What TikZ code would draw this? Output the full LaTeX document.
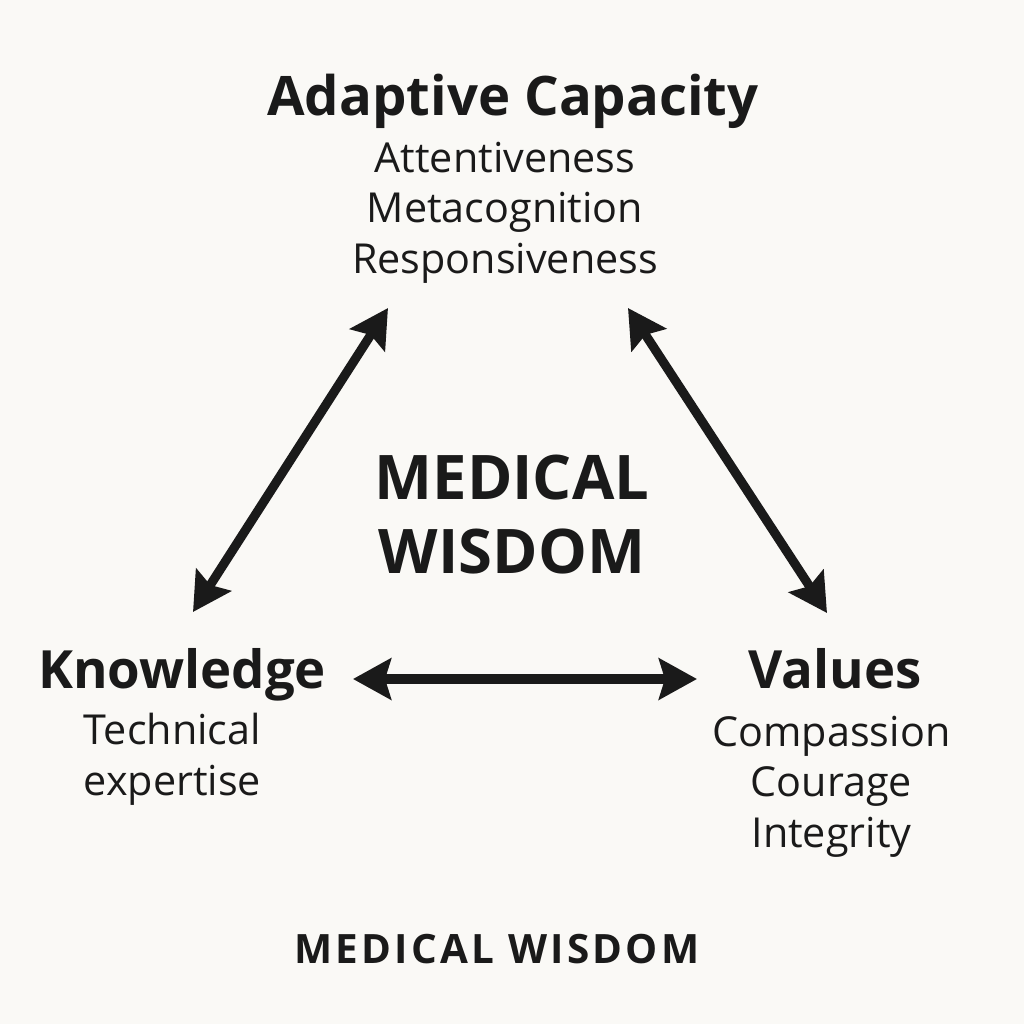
\documentclass[tikz,border=0pt]{standalone}
\usepackage{fontspec}
\setmainfont{Open Sans}
\usetikzlibrary{arrows.meta,positioning,calc}
\definecolor{ink}{RGB}{26,26,26}
\definecolor{paper}{RGB}{250,249,246}

\begin{document}
\begin{tikzpicture}[
  every node/.style={text=ink, inner sep=0pt},
  head/.style={anchor=base, font=\fontsize{30}{36}\bfseries\selectfont},
  items/.style={anchor=base, align=center, font=\fontsize{23.5}{28.6}\selectfont},
  core/.style={anchor=base, align=center, font=\fontsize{35}{42.1}\bfseries\selectfont},
  foot/.style={anchor=base, font=\fontsize{23}{30}\bfseries\addfontfeature{LetterSpace=8}\selectfont},
  dbl/.style={{Stealth[length=0.76cm,width=0.82cm,inset=0.12cm]}-{Stealth[length=0.76cm,width=0.82cm,inset=0.12cm]},
              draw=ink, line width=5.2pt},
]

% page
\fill[paper] (-10.24,-10.24) rectangle (10.24,10.24);

% corners of the triangle
\node[head, font=\fontsize{31}{36}\bfseries\selectfont] (adapt) at (0.02,7.94) {Adaptive Capacity};
\node[items] (adaptlist) at (-0.14,4.78) {Attentiveness\\Metacognition\\Responsiveness};

\node[head] (know) at (-6.6,-3.52) {Knowledge};
\node[items] (knowlist) at (-6.79,-5.66) {Technical\\expertise};

\node[head] (values) at (6.46,-3.52) {Values};
\node[items] (valueslist) at (6.39,-6.70) {Compassion\\Courage\\Integrity};

% middle and title
\node[core] (core) at (0,-1.22) {MEDICAL\\WISDOM};
\node[foot] (foot) at (-0.3,-9.02) {MEDICAL WISDOM};

% links
\draw[dbl] ([shift={(0.22,1.52)}]know.base) -- ([shift={(-2.5,-3.86)}]adapt.base);
\draw[dbl] ([shift={(2.30,-3.86)}]adapt.base) -- ([shift={(-0.16,1.50)}]values.base);
\draw[dbl] ([shift={(3.42,0.18)}]know.base) -- ([shift={(-2.76,0.18)}]values.base);

\end{tikzpicture}
\end{document}
